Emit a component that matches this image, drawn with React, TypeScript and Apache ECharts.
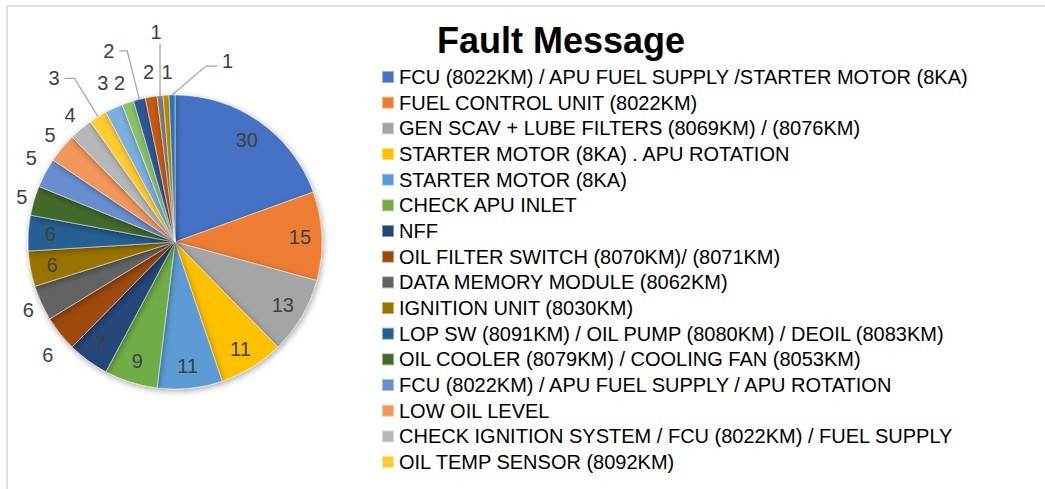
import React, { useEffect, useRef } from "react";
import * as echarts from "echarts";

const categories = [
  "FCU (8022KM) / APU FUEL SUPPLY /STARTER MOTOR (8KA)",
  "FUEL CONTROL UNIT (8022KM)",
  "GEN SCAV + LUBE FILTERS (8069KM) / (8076KM)",
  "STARTER MOTOR (8KA) . APU ROTATION",
  "STARTER MOTOR (8KA)",
  "CHECK APU INLET",
  "NFF",
  "OIL FILTER SWITCH (8070KM)/ (8071KM)",
  "DATA MEMORY MODULE (8062KM)",
  "IGNITION UNIT (8030KM)",
  "LOP SW (8091KM) / OIL PUMP (8080KM) / DEOIL (8083KM)",
  "OIL COOLER (8079KM) / COOLING FAN (8053KM)",
  "FCU (8022KM) / APU FUEL SUPPLY / APU ROTATION",
  "LOW OIL LEVEL",
  "CHECK IGNITION SYSTEM / FCU (8022KM) / FUEL SUPPLY",
  "OIL TEMP SENSOR (8092KM)",
  "OTHER 17",
  "OTHER 18",
  "OTHER 19",
  "OTHER 20",
  "OTHER 21",
  "OTHER 22",
  "OTHER 23",
];

const values = [30, 15, 13, 11, 11, 9, 7, 6, 6, 6, 6, 5, 5, 5, 4, 3, 3, 2, 2, 2, 1, 1, 1];

const legendCount = 16;

const sliceColors = [
  "#4472C4", "#ED7D31", "#A5A5A5", "#FFC000", "#5B9BD5", "#70AD47",
  "#264478", "#9E480E", "#636363", "#997300", "#255E91", "#43682B",
  "#698ED0", "#F1975A", "#B7B7B7", "#FFCD33", "#7CAFDD", "#8CC168",
  "#2F5597", "#C55A11", "#7F7F7F", "#BF9000", "#2E75B6",
];

// label placement per slice: in = inside ring, out = outside without line, line = with leader
const placement = [
  "in", "in", "in", "in", "in", "in", "in", "out", "out", "in", "in", "out",
  "out", "out", "out", "line", "out", "out", "line", "out", "line", "out", "line",
];
// [length, length2] for outside labels
const outLen: Record<number, [number, number]> = {
  7: [34, -25], 8: [17, -13], 11: [12, -10], 12: [31, -24], 13: [20, -14],
  14: [18, -11], 15: [45, 10], 16: [28, -11], 17: [21, -9], 18: [50, 8],
  19: [25, -12], 20: [30, 0], 21: [23, -13], 22: [30, 0],
};

const FONT = "Liberation Sans";

export default function App() {
  const ref = useRef<HTMLDivElement>(null);
  useEffect(() => {
    if (!ref.current) return;
    const chart = echarts.init(ref.current, undefined, { renderer: "svg" });
    const center = [175, 242];
    const R = 147;

    const mainData = values.map((v, i) => ({
      name: categories[i],
      value: v,
      itemStyle: { color: sliceColors[i] },
    }));

    const labelData = values.map((v, i) => {
      const p = placement[i];
      const lens = outLen[i] || [10, 0];
      return {
        name: categories[i],
        value: v,
        label: {
          show: true,
          position: p === "in" ? "inside" : "outside",
        },
        labelLine: {
          show: p === "line",
          length: lens[0],
          length2: lens[1],
        },
      };
    });

    chart.setOption({
      animation: false,
      textStyle: { fontFamily: FONT },
      graphic: [
        {
          type: "rect",
          shape: { x: 7, y: 6, width: 1045, height: 500 },
          style: { fill: "none", stroke: "#d9d9d9", lineWidth: 1.5 },
          silent: true,
        },
        {
          type: "text",
          x: 561,
          y: 40,
          style: {
            text: "Fault Message",
            font: `bold 36px ${FONT}`,
            fill: "#000",
            textAlign: "center",
            textVerticalAlign: "middle",
          },
        },
      ],
      legend: {
        orient: "vertical",
        left: 381,
        top: 67,
        padding: 0,
        itemWidth: 12,
        itemHeight: 12,
        itemGap: 5.67,
        itemTextGap: 5,
        icon: "rect",
        selectedMode: false,
        data: categories.slice(0, legendCount),
        textStyle: { fontSize: 20, fontFamily: FONT, color: "#000", lineHeight: 20 },
      },
      series: [
        {
          type: "pie",
          center,
          radius: R,
          startAngle: 90,
          clockwise: true,
          label: { show: false },
          labelLine: { show: false },
          emphasis: { disabled: true },
          itemStyle: {
            borderColor: "rgba(255,255,255,0.45)",
            borderWidth: 1,
            shadowBlur: 6,
            shadowOffsetX: 1,
            shadowOffsetY: 2,
            shadowColor: "rgba(0,0,0,0.35)",
          },
          data: mainData,
        },
        {
          type: "pie",
          center,
          radius: [97, R],
          startAngle: 90,
          clockwise: true,
          silent: true,
          legendHoverLink: false,
          avoidLabelOverlap: false,
          emphasis: { disabled: true },
          itemStyle: { color: "rgba(0,0,0,0)" },
          label: {
            formatter: "{c}",
            color: "#404040",
            fontSize: 20,
            fontFamily: FONT,
            distanceToLabelLine: 5,
          },
          labelLine: {
            lineStyle: { color: "#a6a6a6", width: 1.3 },
          },
          labelLayout: (p: any) => {
            const pts = p.labelLinePoints;
            if (!pts || !pts[0]) return;
            const x0 = pts[0][0];
            const y0 = pts[0][1];
            if (p.dataIndex === 20) {
              return {
                x: x0 - 4,
                y: y0 - 64,
                align: "center",
                verticalAlign: "middle",
                labelLinePoints: [[x0, y0], [x0, y0 - 52], [x0, y0 - 52]],
              };
            }
            if (p.dataIndex === 22) {
              return {
                x: x0 + 50,
                y: y0 - 34,
                align: "left",
                verticalAlign: "middle",
                labelLinePoints: [[x0, y0], [x0 + 34, y0 - 29], [x0 + 45, y0 - 29]],
              };
            }
            return;
          },
          data: labelData,
        },
      ],
    });
    return () => chart.dispose();
  }, []);
  return (
    <div
      ref={ref}
      style={{ position: "fixed", left: 0, top: 0, width: 1045, height: 489, background: "#fff" }}
    />
  );
}
